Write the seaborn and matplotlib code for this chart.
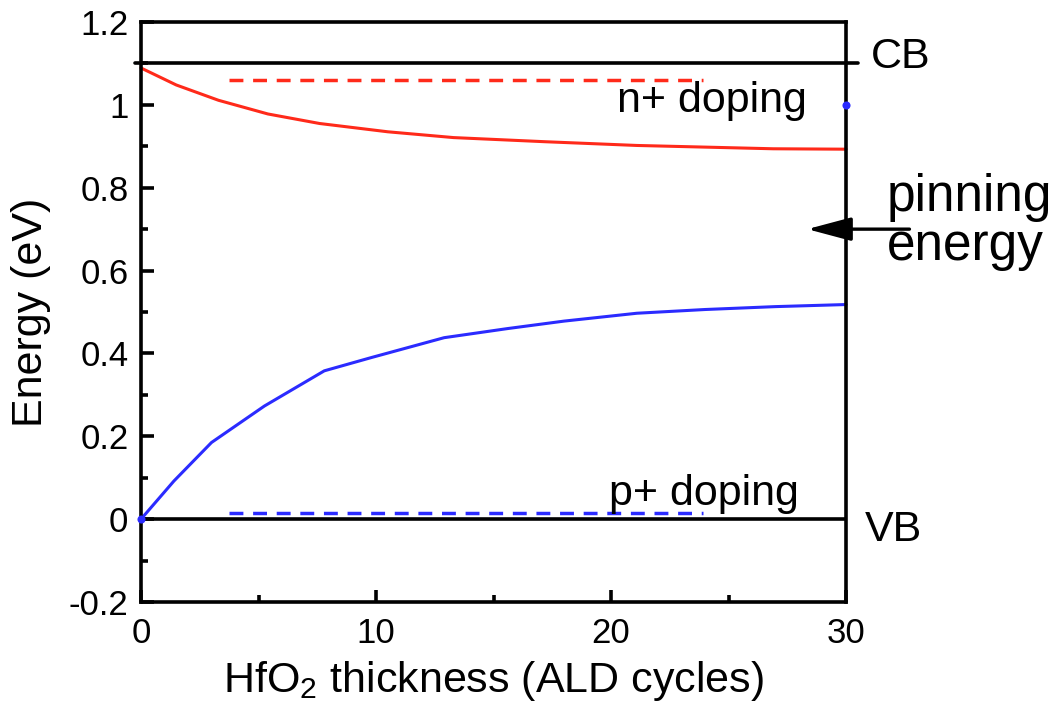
import matplotlib
matplotlib.use("Agg")
import matplotlib.pyplot as plt
import seaborn as sns
import pandas as pd

# Fermi level position vs HfO2 thickness
n_cycles = [0.0, 1.5, 3.3, 5.4, 7.6, 10.5, 13.3, 17.2, 21.1, 24.0, 26.9, 30.0]
n_energy = [1.089, 1.048, 1.011, 0.978, 0.955, 0.935, 0.921, 0.911, 0.902, 0.898, 0.894, 0.893]

p_cycles = [0.0, 1.4, 3.0, 5.25, 7.8, 9.8, 12.9, 15.6, 18.0, 21.1, 24.0, 27.0, 30.0]
p_energy = [0.0, 0.092, 0.185, 0.273, 0.358, 0.39, 0.438, 0.46, 0.478, 0.497, 0.506, 0.513, 0.518]

# reference levels
cb_level = 1.1
vb_level = 0.0
n_doping_level = 1.06
p_doping_level = 0.015
doping_span = [3.75, 23.9]
pinning_level = 0.7
extra_point = (30.0, 1.0)

x_ticks = [0, 10, 20, 30]
y_ticks = [-0.2, 0, 0.2, 0.4, 0.6, 0.8, 1.0, 1.2]
y_tick_labels = ["-0.2", "0", "0.2", "0.4", "0.6", "0.8", "1", "1.2"]

RED = "#ff2a1a"
BLUE = "#2b2bff"

sns.set_style("ticks")
plt.rcParams["font.family"] = ["Liberation Sans", "DejaVu Sans"]
plt.rcParams["mathtext.fontset"] = "custom"
plt.rcParams["mathtext.rm"] = "Liberation Sans"
plt.rcParams["text.color"] = "black"
plt.rcParams["axes.labelcolor"] = "black"
plt.rcParams["xtick.color"] = "black"
plt.rcParams["ytick.color"] = "black"

fig = plt.figure(figsize=(10.6, 7.13), dpi=100)
ax = fig.add_axes([141 / 1060, 1 - 602 / 713, (846 - 141) / 1060, (602 - 22) / 713])

df_n = pd.DataFrame({"cycles": n_cycles, "energy": n_energy})
df_p = pd.DataFrame({"cycles": p_cycles, "energy": p_energy})
sns.lineplot(data=df_n, x="cycles", y="energy", color=RED, lw=2.2, ax=ax, clip_on=False)
sns.lineplot(data=df_p, x="cycles", y="energy", color=BLUE, lw=2.2, ax=ax, clip_on=False)

# doping levels
ax.plot(doping_span, [n_doping_level] * 2, color=RED, lw=2.5, dashes=(4.0, 2.8))
ax.plot(doping_span, [p_doping_level] * 2, color=BLUE, lw=2.5, dashes=(4.0, 2.8))

# band edges
ax.axhline(cb_level, xmin=-0.009, xmax=1.017, color="black", lw=2.6, clip_on=False, zorder=3)
ax.axhline(vb_level, color="black", lw=2.6, zorder=3)

# end markers
ax.scatter([p_cycles[0]], [p_energy[0]], s=34, color=BLUE, zorder=4, clip_on=False, linewidths=0)
ax.scatter([extra_point[0]], [extra_point[1]], s=34, color=BLUE, zorder=4, clip_on=False, linewidths=0)

ax.set_xlim(0, 30)
ax.set_ylim(-0.2, 1.2)
ax.set_xticks(x_ticks)
ax.set_xticks([5, 15, 25], minor=True)
ax.set_yticks(y_ticks)
ax.set_yticklabels(y_tick_labels)
ax.set_yticks([-0.1, 0.1, 0.3, 0.5, 0.7, 0.9, 1.1], minor=True)

for s in ax.spines.values():
    s.set_linewidth(2.6)
    s.set_color("black")
ax.tick_params(which="both", direction="in", width=2.6, colors="black",
               top=False, right=False, labelsize=25)
ax.tick_params(which="major", length=9)
ax.tick_params(which="minor", length=5)
ax.tick_params(axis="y", pad=9)
ax.tick_params(axis="x", pad=11)

ax.set_xlabel(r"HfO$_\mathregular{2}$ thickness (ALD cycles)", fontsize=31, labelpad=6)
ax.set_ylabel("Energy (eV)", fontsize=31, labelpad=13)

ax.text(30.0 + 1.05, cb_level + 0.015, "CB", fontsize=31, ha="left", va="center", clip_on=False)
ax.text(30.0 + 0.8, vb_level - 0.027, "VB", fontsize=31, ha="left", va="center", clip_on=False)
ax.text(20.25, 0.983, "n+ doping", fontsize=31, ha="left", va="baseline")
ax.text(19.9, 0.035, "p+ doping", fontsize=31, ha="left", va="baseline")

ax.annotate("", xy=(28.35, pinning_level), xytext=(32.7, pinning_level),
            arrowprops=dict(arrowstyle="-|>,head_length=1.35,head_width=0.36",
                            color="black", lw=2.4, mutation_scale=20, shrinkA=0, shrinkB=0),
            annotation_clip=False)
ax.text(31.75, 0.718, "pinning\nenergy", fontsize=37, ha="left", va="center",
        linespacing=1.0, clip_on=False)

sns.despine(ax=ax, top=False, right=False)
fig.savefig("out.png", dpi=100)
